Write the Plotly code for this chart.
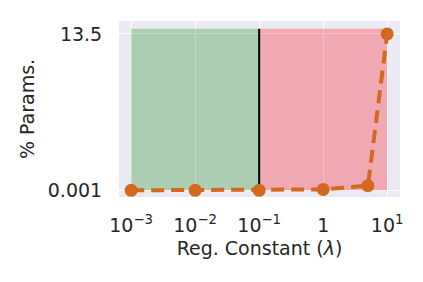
import plotly.graph_objects as go

reg_constants = [0.001, 0.01, 0.1, 1, 5, 10]
pct_params = [0.001, 0.001, 0.001, 0.08, 0.4, 13.5]
green_span = [0.001, 0.1]
red_span = [0.1, 10]
threshold = 0.1
span_y = [0.001, 13.95]
x_tickvals = [0.001, 0.01, 0.1, 1, 10]
x_ticktext = ["10<sup>−3</sup>", "10<sup>−2</sup>", "10<sup>−1</sup>", "1", "10<sup>1</sup>"]
y_tickvals = [0.001, 13.5]
y_ticktext = ["0.001", "13.5"]

fig = go.Figure()
fig.add_shape(type="rect", xref="x", yref="y", x0=green_span[0], x1=green_span[1],
              y0=span_y[0], y1=span_y[1], fillcolor="rgba(34,139,34,0.3)",
              line_width=0, layer="between")
fig.add_shape(type="rect", xref="x", yref="y", x0=red_span[0], x1=red_span[1],
              y0=span_y[0], y1=span_y[1], fillcolor="rgba(255,20,30,0.3)",
              line_width=0, layer="between")
fig.add_shape(type="line", xref="x", yref="y", x0=threshold, x1=threshold,
              y0=span_y[0], y1=span_y[1], line=dict(color="black", width=2), layer="between")
fig.add_trace(go.Scatter(x=reg_constants, y=pct_params, mode="lines+markers",
                         line=dict(color="#D2691E", width=4, dash="13px,7px"),
                         marker=dict(size=13, color="#D2691E")))

font = dict(family="DejaVu Sans", size=19, color="#262626")
fig.update_layout(
    width=423, height=282, margin=dict(l=119, r=23, t=21, b=85),
    paper_bgcolor="white", plot_bgcolor="#EAEAF2", showlegend=False, font=font,
)
fig.update_xaxes(type="log", range=[-3.19, 1.20], tickvals=x_tickvals, ticktext=x_ticktext,
                 showgrid=True, gridcolor="white", gridwidth=1.3, zeroline=False,
                 ticks="outside", ticklen=11, tickcolor="rgba(0,0,0,0)",
                 title=dict(text="Reg. Constant (<i>λ</i>)", standoff=6, font=font),
                 tickfont=font)
fig.update_yaxes(range=[-0.578, 14.62], tickvals=y_tickvals, ticktext=y_ticktext,
                 showgrid=True, gridcolor="white", gridwidth=1.3, zeroline=False,
                 ticks="outside", ticklen=12, tickcolor="rgba(0,0,0,0)",
                 title=dict(text="% Params.", standoff=8, font=font), tickfont=font)
fig.write_html("out.html")
